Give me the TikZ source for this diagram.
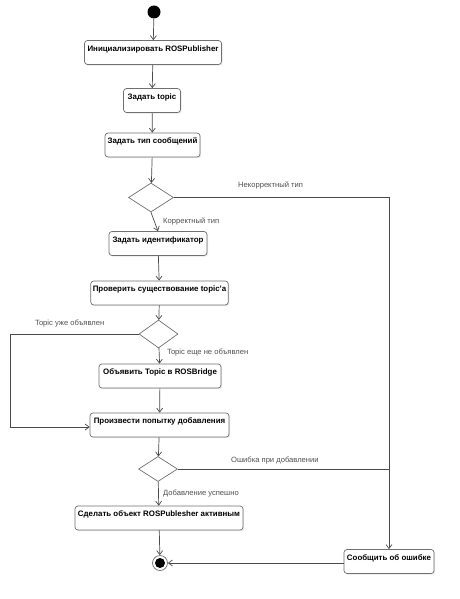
\documentclass[tikz,border=0pt]{standalone}
\usepackage{fontspec}
\setmainfont{Liberation Sans}
\usetikzlibrary{shapes.geometric,arrows.meta,shadows}
\definecolor{lin}{HTML}{4A4A4A}
\definecolor{brd}{HTML}{707070}
\definecolor{lbl}{HTML}{505050}
\tikzset{
  act/.style={draw=brd, line width=0.7pt, rounded corners=3pt, fill=white,
    font=\bfseries\fontsize{7.9}{9}\selectfont, inner xsep=2pt, inner ysep=0pt,
    text height=10.8pt, text depth=13.2pt,
    drop shadow={shadow xshift=1.2pt, shadow yshift=-1.2pt, fill=black!15, opacity=0.6}},
  dec/.style={draw=brd, line width=0.7pt, diamond, inner sep=0pt, fill=white},
  flow/.style={draw=lin, line width=0.7pt, -{Straight Barb[length=4pt,width=6pt]}},
  plain/.style={draw=lin, line width=0.7pt},
  glabel/.style={text=lbl, font=\fontsize{7.6}{9}\selectfont, inner sep=0pt, anchor=west},
}
\begin{document}
\begin{tikzpicture}[x=1pt,y=-1pt]
\useasboundingbox[fill=white] (0,0) rectangle (459,599);
\node[circle, fill=black, minimum size=13pt, inner sep=0pt] (start) at (154,12) {};
\node[act, minimum width=137pt] (b1) at (153,52.5) {Инициализировать ROSPublisher};
\node[act, minimum width=57pt] (b2) at (152,100.5) {Задать topic};
\node[act, minimum width=95pt] (b3) at (152.5,145) {Задать тип сообщений};
\node[dec, minimum width=45pt, minimum height=29pt] (d1) at (151,197.5) {};
\node[act, minimum width=98pt] (b4) at (158,243.5) {Задать идентификатор};
\node[act, minimum width=137pt] (b5) at (159.5,293) {Проверить существование topic'а};
\node[dec, minimum width=39pt, minimum height=28pt] (d2) at (158.5,334) {};
\node[act, minimum width=122pt] (b6) at (160,376) {Объявить Topic в ROSBridge};
\node[act, minimum width=139pt] (b7) at (159.5,425) {Произвести попытку добавления};
\node[dec, minimum width=39pt, minimum height=25pt] (d3) at (158,469) {};
\node[act, minimum width=168pt] (b8) at (159,518) {Сделать объект ROSPublesher активным};
\node[act, minimum width=90pt] (err) at (389,561.5) {Сообщить об ошибке};
\node[circle, draw=brd, line width=0.7pt, fill=white, minimum size=15pt, inner sep=0pt] (end) at (160,563) {};
\node[circle, fill=black, minimum size=10pt, inner sep=0pt] at (end) {};
\coordinate (c1) at (389,197.5);
\coordinate (c2) at (10,334);
\coordinate (c3) at (10,427);
\coordinate (j3) at (389,469);

\draw[flow] (start) -- (b1);
\draw[flow] (b1) -- (b2);
\draw[flow] (b2) -- (b3);
\draw[flow] (b3) -- (d1);
\draw[flow] (d1.south) -- (b4.north);
\draw[flow] (b4) -- (b5);
\draw[flow] (b5) -- (d2);
\draw[flow] (d2) -- (b6);
\draw[flow] (b6) -- (b7);
\draw[flow] (b7) -- (d3);
\draw[flow] (d3) -- (b8);
\draw[flow] (b8) -- (end);
\draw[flow] (d1.east) -- (c1) -- (err.north);
\draw[plain] (d3.east) -- (j3);
\draw[flow] (d2.west) -- (c2) -- (c3) -- (b7.west |- c3);
\draw[flow] (err.west |- end) -- (end);

\node[glabel] (l1) at (238,185) {Некорректный тип};
\node[glabel] (l2) at (163,221) {Корректный тип};
\node[glabel] (l3) at (35,323) {Topic уже объявлен};
\node[glabel] (l4) at (167,352) {Topic еще не объявлен};
\node[glabel] (l5) at (231,460) {Ошибка при добавлении};
\node[glabel] (l6) at (163,493) {Добавление успешно};
\end{tikzpicture}
\end{document}
